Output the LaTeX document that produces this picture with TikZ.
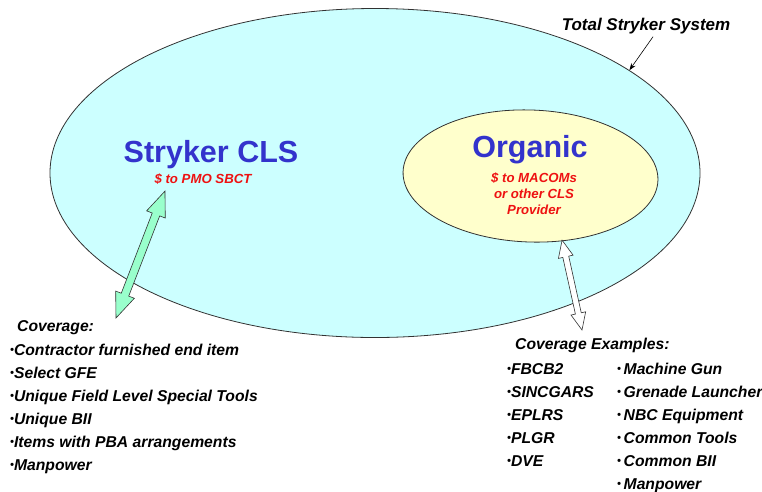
\documentclass[tikz,border=0pt]{standalone}
\usepackage{fontspec}
\setmainfont{Liberation Sans}
\usetikzlibrary{shapes.geometric,arrows.meta}
\definecolor{cyanfill}{RGB}{204,255,255}
\definecolor{yelfill}{RGB}{255,255,204}
\definecolor{bluetxt}{RGB}{51,51,204}
\definecolor{redtxt}{RGB}{238,17,17}
\definecolor{greenfill}{RGB}{153,255,204}
\definecolor{outline}{RGB}{50,50,50}
\newcommand\smbul{{\fontsize{11}{11}\selectfont\raisebox{1.2pt}{•}}}
\begin{document}
\begin{tikzpicture}[x=1pt,y=-1pt,
 ell/.style={ellipse, draw=outline, line width=0.8pt, inner sep=0pt},
 bigtitle/.style={font=\fontsize{30.5}{34}\selectfont\bfseries, text=bluetxt, anchor=base, inner sep=0pt},
 redsub/.style={font=\fontsize{13.2}{16}\selectfont\bfseries\itshape, text=redtxt, anchor=base, inner sep=0pt},
 item/.style={font=\fontsize{15.7}{18}\selectfont\bfseries\itshape, anchor=base west, inner sep=0pt},
 systitle/.style={font=\fontsize{17}{20}\selectfont\bfseries\itshape, anchor=base, inner sep=0pt},
 arrowbody/.style={draw=outline, line width=0.6pt, line join=miter}
]
\useasboundingbox (0,0) rectangle (762,491);
% ellipses
\node[ell, fill=cyanfill, minimum width=650pt, minimum height=329pt] (total) at (375,173) {};
\node[ell, fill=yelfill, minimum width=255pt, minimum height=132pt, rotate=-2] (organic) at (530.5,176) {};
% titles
\node[systitle] (title) at (646,30) {Total Stryker System};
\draw[-{Stealth[length=7pt,width=5pt]}, line width=0.6pt] ([xshift=7pt,yshift=-3pt]title.south) -- (total.22.6);
\node[bigtitle] (cls) at (211,162) {Stryker CLS};
\node[redsub] (clssub) at (203,183) {\$ to PMO SBCT};
\node[bigtitle] (org) at (530,157) {Organic};
\node[redsub] (orgsub1) at (534,182) {\$ to MACOMs};
\node[redsub] (orgsub2) at (534,198) {or other CLS};
\node[redsub] (orgsub3) at (534,214) {Provider};
% green double arrow
\coordinate (gA) at (116,318);
\coordinate (gB) at (165,191);
\begin{scope}[shift={(gA)}, rotate=68.9]
\filldraw[fill=greenfill, arrowbody] (0,0) -- (25,10) -- (25,4) -- (111,4) -- (111,10) -- (136,0) -- (111,-10) -- (111,-4) -- (25,-4) -- (25,-10) -- cycle;
\end{scope}
% white double arrow
\coordinate (wA) at (582,330);
\coordinate (wB) at (562,240);
\begin{scope}[shift={(wA)}, rotate=102.5]
\filldraw[fill=white, arrowbody] (0,0) -- (17,7.5) -- (17,3) -- (75,3) -- (75,7.5) -- (92,0) -- (75,-7.5) -- (75,-3) -- (17,-3) -- (17,-7.5) -- cycle;
\end{scope}
% left coverage list
\node[item] (cov) at (17,331.5) {Coverage:};
\node[item] (l1) at (10,355) {\smbul Contractor furnished end item};
\node[item] (l2) at (10,378) {\smbul Select GFE};
\node[item] (l3) at (10,401) {\smbul Unique Field Level Special Tools};
\node[item] (l4) at (10,424) {\smbul Unique BII};
\node[item] (l5) at (10,447) {\smbul Items with PBA arrangements};
\node[item] (l6) at (10,470) {\smbul Manpower};
% right coverage examples
\node[item] (ex) at (515,349) {Coverage Examples:};
\node[item] (a1) at (507,374) {\smbul FBCB2};
\node[item] (a2) at (507,397) {\smbul SINCGARS};
\node[item] (a3) at (507,420) {\smbul EPLRS};
\node[item] (a4) at (507,443) {\smbul PLGR};
\node[item] (a5) at (507,466) {\smbul DVE};
\node[item] (b1) at (617,374) {\smbul\,Machine Gun};
\node[item] (b2) at (617,397) {\smbul\,Grenade Launcher};
\node[item] (b3) at (617,420) {\smbul\,NBC Equipment};
\node[item] (b4) at (617,443) {\smbul\,Common Tools};
\node[item] (b5) at (617,466) {\smbul\,Common BII};
\node[item] (b6) at (617,489) {\smbul\,Manpower};
\end{tikzpicture}
\end{document}
